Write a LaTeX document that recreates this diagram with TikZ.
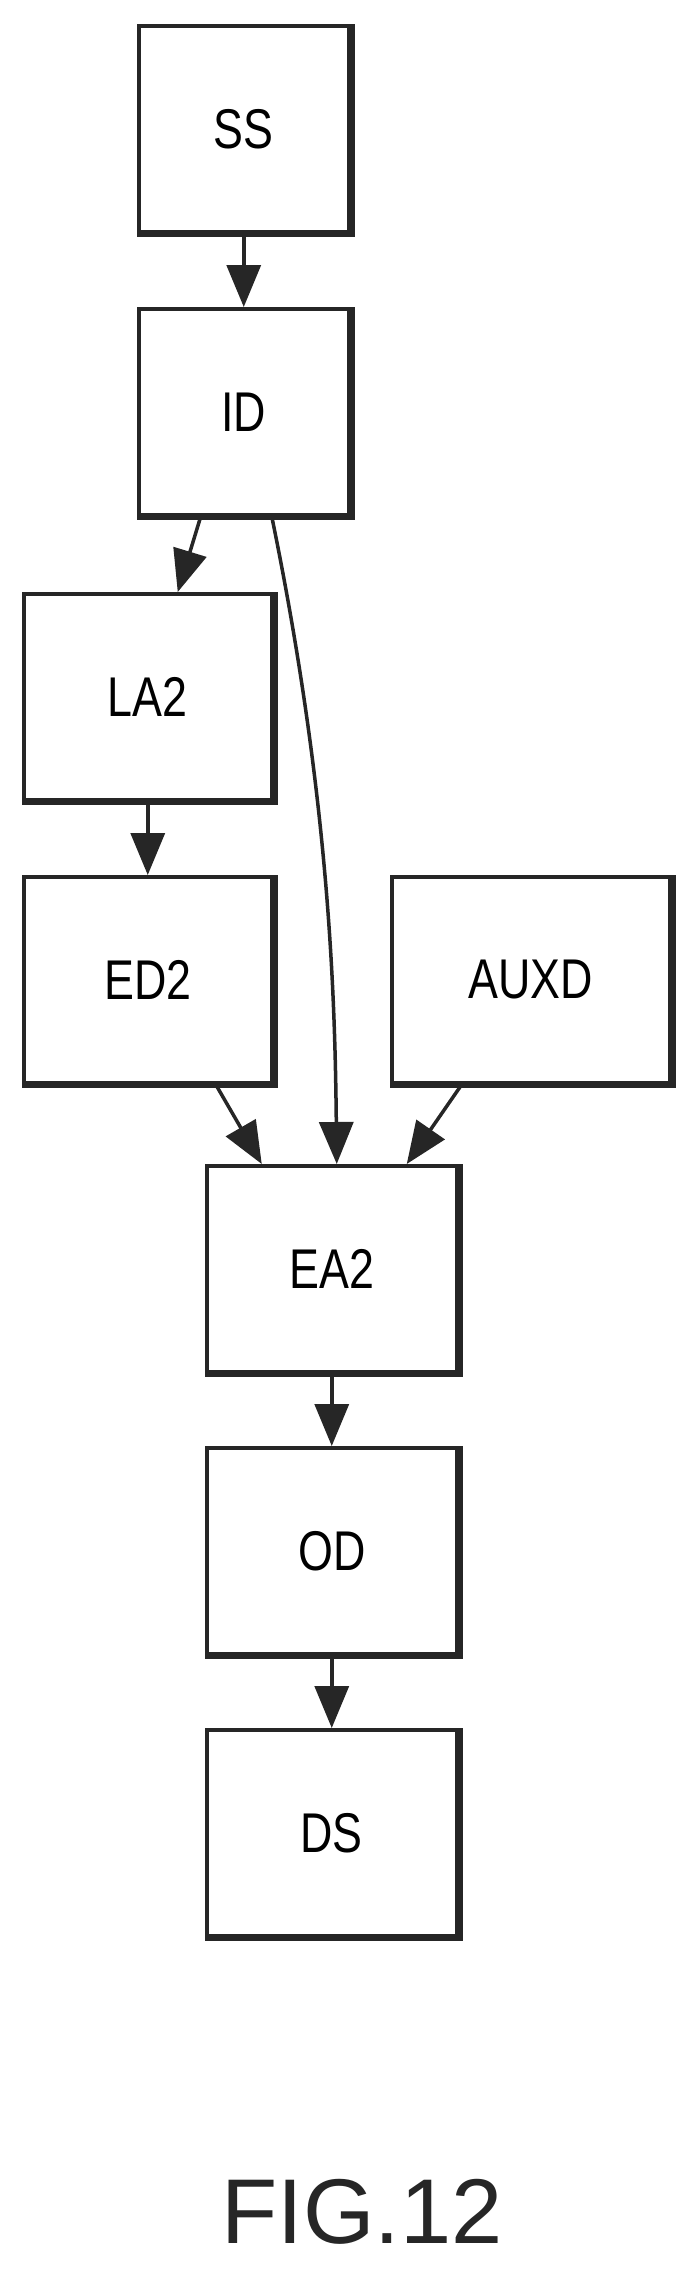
\documentclass[tikz,border=0pt]{standalone}
\usepackage{fontspec}
\setmainfont{Liberation Sans}
\usetikzlibrary{arrows.meta}
\begin{document}
\begin{tikzpicture}[x=1pt,y=-1pt,
  box/.style={draw=black!85,line width=3.5pt,minimum width=#1,minimum height=206pt,inner sep=0pt,
    font=\fontsize{56}{62}\selectfont, anchor=north west},
  box/.default=210pt,
  arr/.style={line width=3.5pt,draw=black!85,-{Triangle[length=42pt,width=34pt]}}]
\useasboundingbox (0,0) rectangle (692,2273);
\node[box=210pt] (SS) at (137,24) {\scalebox{0.8}[1]{SS}};
\node[box=210pt] (ID) at (137,307) {\scalebox{0.8}[1]{ID}};
\node[box=248pt] (LA2) at (22,592) {\scalebox{0.8}[1]{LA2}};
\node[box=248pt] (ED2) at (22,875) {\scalebox{0.8}[1]{ED2}};
\node[box=278pt] (AUXD) at (390,875) {\scalebox{0.8}[1]{AUXD}};
\node[box=250pt] (EA2) at (205,1164) {\scalebox{0.8}[1]{EA2}};
\node[box=250pt] (OD) at (205,1446) {\scalebox{0.8}[1]{OD}};
\node[box=250pt] (DS) at (205,1728) {\scalebox{0.8}[1]{DS}};
\foreach \n in {SS,ID,LA2,ED2,AUXD,EA2,OD,DS}{
  \draw[line width=6pt,black!85] ([xshift=1.5pt]\n.north east) -- ([xshift=1.5pt]\n.south east);
  \draw[line width=5pt,black!85] ([yshift=-1pt]\n.south west) -- ([yshift=-1pt,xshift=4pt]\n.south east);
}
\draw[arr] (SS.south) -- (ID.north);
\draw[arr] ([xshift=-43pt]ID.south) -- ([xshift=30pt]LA2.north);
\draw[arr] ([xshift=28pt]ID.south) .. controls (330,800) and (335,1000) .. ([xshift=5pt]EA2.north);
\draw[arr] (LA2.south) -- (ED2.north);
\draw[arr] ([xshift=68pt]ED2.south) -- ([xshift=-70pt]EA2.north);
\draw[arr] ([xshift=-69pt]AUXD.south) -- ([xshift=75pt]EA2.north);
\draw[arr] (EA2.south) -- (OD.north);
\draw[arr] (OD.south) -- (DS.north);
\node[font=\fontsize{92}{100}\selectfont,text=black!85] (fig) at (362,2212) {FIG.12};
\end{tikzpicture}
\end{document}
